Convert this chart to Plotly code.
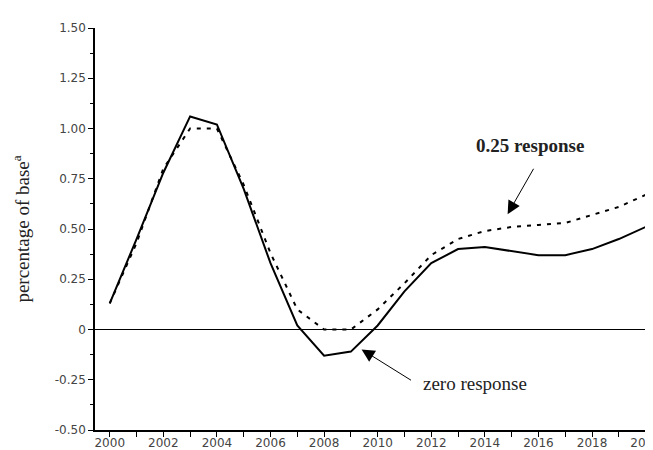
import plotly.graph_objects as go

years = list(range(2000, 2021))
zero_response = [0.13, 0.45, 0.78, 1.06, 1.02, 0.70, 0.33, 0.02, -0.13, -0.11,
                 0.02, 0.19, 0.33, 0.40, 0.41, 0.39, 0.37, 0.37, 0.40, 0.45, 0.51]
quarter_response = [0.13, 0.43, 0.80, 1.00, 1.00, 0.72, 0.38, 0.10, 0.00, 0.00,
                    0.10, 0.23, 0.37, 0.45, 0.49, 0.51, 0.52, 0.53, 0.57, 0.61, 0.67]
y_tickvals = [-0.5, -0.25, 0, 0.25, 0.5, 0.75, 1.0, 1.25, 1.5]
y_ticktext = ["-0.50", "-0.25", "0", "0.25", "0.50", "0.75", "1.00", "1.25", "1.50"]
x_ticktext = [str(y) if y % 2 == 0 else "" for y in years]

fig = go.Figure()
fig.add_trace(go.Scatter(x=years, y=quarter_response, mode="lines",
                         line=dict(color="black", width=2, dash="4px,6px"),
                         name="0.25 response"))
fig.add_trace(go.Scatter(x=years, y=zero_response, mode="lines",
                         line=dict(color="black", width=2),
                         name="zero response"))

fig.add_shape(type="line", xref="paper", yref="y", x0=0, x1=1, y0=0, y1=0,
              line=dict(color="black", width=1))

serif = "Liberation Serif"
fig.add_annotation(x=2014.85, y=0.574, ax=2015.85, ay=0.807, axref="x", ayref="y",
                   xref="x", yref="y", text="", showarrow=True,
                   arrowhead=2, arrowsize=2.6, arrowwidth=1, arrowcolor="black")
fig.add_annotation(x=2009.4, y=-0.099, ax=2011.3, ay=-0.257, axref="x", ayref="y",
                   xref="x", yref="y", text="", showarrow=True,
                   arrowhead=2, arrowsize=2.6, arrowwidth=1, arrowcolor="black")
fig.add_annotation(x=2015.7, y=0.915, text="<b>0.25 response</b>", showarrow=False,
                   font=dict(family=serif, size=19, color="#222"))
fig.add_annotation(x=2013.65, y=-0.267, text="zero response", showarrow=False,
                   font=dict(family=serif, size=19, color="#222"))

fig.update_layout(
    width=653, height=450,
    margin=dict(l=87, r=0, t=20, b=28),
    paper_bgcolor="white", plot_bgcolor="white",
    showlegend=False,
    font=dict(family="DejaVu Sans", size=12, color="#444"),
)
fig.update_xaxes(range=[1999.45, 2020.5], tickvals=years, ticktext=x_ticktext,
                 ticks="outside", ticklen=5, tickcolor="black", tickwidth=1,
                 ticklabeloverflow="allow", ticklabelstandoff=-4,
                 showline=True, linecolor="black", linewidth=1.5,
                 showgrid=False, zeroline=False)
fig.update_yaxes(range=[-0.5, 1.5], tickvals=y_tickvals, ticktext=y_ticktext,
                 ticks="outside", ticklen=5, tickcolor="black", tickwidth=1,
                 minor=dict(dtick=0.125, tick0=0, ticks="outside", ticklen=3,
                            tickcolor="black", showgrid=False),
                 showline=True, linecolor="black", linewidth=1.5,
                 showgrid=False, zeroline=False,
                 title=dict(text="percentage of base<sup>a</sup>",
                            font=dict(family=serif, size=19, color="#222"),
                            standoff=20))

fig.write_html("out.html")
